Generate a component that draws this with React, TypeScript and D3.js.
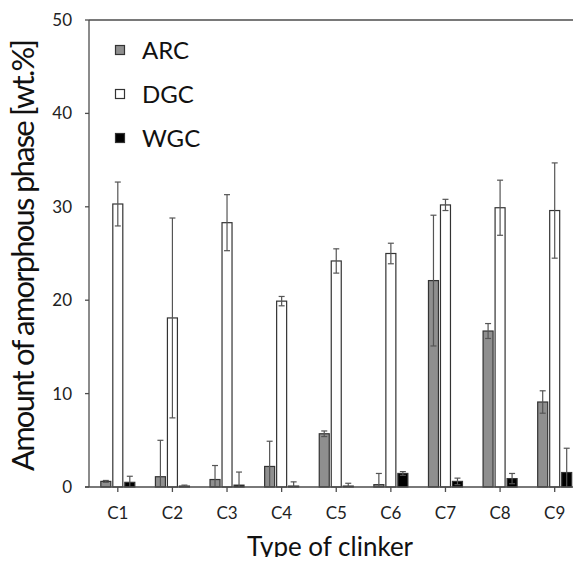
import React, { useEffect, useRef } from 'react';
import * as d3 from 'd3';

const categories = ['C1', 'C2', 'C3', 'C4', 'C5', 'C6', 'C7', 'C8', 'C9'];
const seriesNames = ['ARC', 'DGC', 'WGC'];
const arcValues = [0.6, 1.1, 0.8, 2.2, 5.7, 0.25, 22.1, 16.7, 9.1];
const arcErrors = [0.1, 3.9, 1.5, 2.7, 0.3, 1.2, 7.0, 0.8, 1.2];
const dgcValues = [30.3, 18.1, 28.3, 19.9, 24.2, 25.0, 30.2, 29.9, 29.6];
const dgcErrors = [2.35, 10.7, 3.0, 0.5, 1.3, 1.1, 0.6, 2.95, 5.1];
const wgcValues = [0.5, 0.1, 0.2, 0.1, 0.1, 1.45, 0.6, 0.9, 1.55];
const wgcErrors = [0.65, 0.1, 1.4, 0.45, 0.3, 0.2, 0.35, 0.55, 2.6];
const yTicks = [0, 10, 20, 30, 40, 50];

const fills = ['#8f8f8f', '#ffffff', '#000000'];
const FONT = 'Lato, "Open Sans", sans-serif';

const App = () => {
  const ref = useRef<SVGSVGElement>(null);

  useEffect(() => {
    const svg = d3.select(ref.current);
    svg.selectAll('*').remove();

    const width = 581;
    const left = 89;
    const top = 20;
    const bottom = 487;

    const x = d3.scaleBand().domain(categories).range([90.5, 582]);
    // inner group 36px wide centred in each band: 10px bars, 2px gaps
    const innerW = 36;
    const xi = d3.scaleBand().domain(seriesNames)
      .range([x.bandwidth() / 2 - innerW / 2, x.bandwidth() / 2 + innerW / 2])
      .paddingInner(1 / 6)
      .paddingOuter(1 / 12);
    const y = d3.scaleLinear().domain([0, 50]).range([bottom, top]);

    const rows = categories.map((c, i) => ({
      cat: c,
      items: [
        { s: 'ARC', v: arcValues[i], e: arcErrors[i] },
        { s: 'DGC', v: dgcValues[i], e: dgcErrors[i] },
        { s: 'WGC', v: wgcValues[i], e: wgcErrors[i] },
      ],
    }));

    svg.append('defs').append('clipPath').attr('id', 'plotclip')
      .append('rect').attr('x', left).attr('y', top).attr('width', width - left).attr('height', bottom - top);

    // bars
    const groups = svg.append('g').selectAll('g').data(rows).enter().append('g')
      .attr('transform', d => `translate(${x(d.cat)},0)`);

    groups.selectAll('rect').data(d => d.items).enter().append('rect')
      .attr('x', d => xi(d.s)!)
      .attr('y', d => y(d.v))
      .attr('width', xi.bandwidth())
      .attr('height', d => bottom - y(d.v))
      .attr('fill', (d, i) => fills[i])
      .attr('stroke', '#333')
      .attr('stroke-width', 1.2);

    // error bars
    const eg = svg.append('g').attr('clip-path', 'url(#plotclip)');
    rows.forEach(r => {
      r.items.forEach(it => {
        const cx = x(r.cat)! + xi(it.s)! + xi.bandwidth() / 2;
        const y1 = y(it.v + it.e);
        const y2 = y(it.v - it.e);
        const col = '#555';
        eg.append('line').attr('x1', cx).attr('x2', cx).attr('y1', y1).attr('y2', y2)
          .attr('stroke', col).attr('stroke-width', 1.2);
        [y1, y2].forEach(yy => {
          eg.append('line').attr('x1', cx - 3).attr('x2', cx + 3).attr('y1', yy).attr('y2', yy)
            .attr('stroke', col).attr('stroke-width', 1.2);
        });
      });
    });

    // axes
    const axisColor = '#4d4d4d';
    svg.append('line').attr('x1', left).attr('x2', width).attr('y1', top).attr('y2', top)
      .attr('stroke', axisColor).attr('stroke-width', 1.3);
    svg.append('line').attr('x1', left).attr('x2', left).attr('y1', top).attr('y2', bottom)
      .attr('stroke', axisColor).attr('stroke-width', 1.3);
    svg.append('line').attr('x1', left - 4).attr('x2', width).attr('y1', bottom).attr('y2', bottom)
      .attr('stroke', axisColor).attr('stroke-width', 1.3);

    yTicks.forEach(t => {
      svg.append('line').attr('x1', left - 4).attr('x2', left).attr('y1', y(t)).attr('y2', y(t))
        .attr('stroke', axisColor).attr('stroke-width', 1.3);
      svg.append('text').attr('x', left - 17).attr('y', y(t)).attr('dy', '0.35em')
        .attr('text-anchor', 'end').attr('font-family', FONT).attr('font-size', 17)
        .attr('fill', '#222').text(t);
    });

    categories.forEach(c => {
      const cx = x(c)! + x.bandwidth() / 2;
      svg.append('line').attr('x1', cx).attr('x2', cx).attr('y1', bottom).attr('y2', bottom + 5)
        .attr('stroke', axisColor).attr('stroke-width', 1.3);
      svg.append('text').attr('x', cx).attr('y', 513).attr('dy', '0.35em')
        .attr('text-anchor', 'middle').attr('font-family', FONT).attr('font-size', 17)
        .attr('fill', '#222').text(c);
    });

    svg.append('text').attr('x', 330).attr('y', 556)
      .attr('text-anchor', 'middle').attr('font-family', FONT).attr('font-size', 26)
      .attr('fill', '#111').text('Type of clinker');

    svg.append('text').attr('transform', 'translate(34,255) rotate(-90)')
      .attr('text-anchor', 'middle').attr('font-family', FONT).attr('font-size', 31)
      .attr('textLength', 432).attr('lengthAdjust', 'spacing')
      .attr('fill', '#111').text('Amount of amorphous phase [wt.%]');

    // legend
    seriesNames.forEach((s, i) => {
      const ly = 50 + i * 44;
      svg.append('rect').attr('x', 115.5).attr('y', ly - 4.5).attr('width', 9).attr('height', 9)
        .attr('fill', fills[i]).attr('stroke', '#333').attr('stroke-width', 1.2);
      svg.append('text').attr('x', 142).attr('y', ly).attr('dy', '0.36em')
        .attr('font-family', FONT).attr('font-size', 24).attr('fill', '#111').text(s);
    });
  }, []);

  return <svg ref={ref} width={581} height={565} style={{ display: 'block', margin: -8 }} />;
};

export default App;
